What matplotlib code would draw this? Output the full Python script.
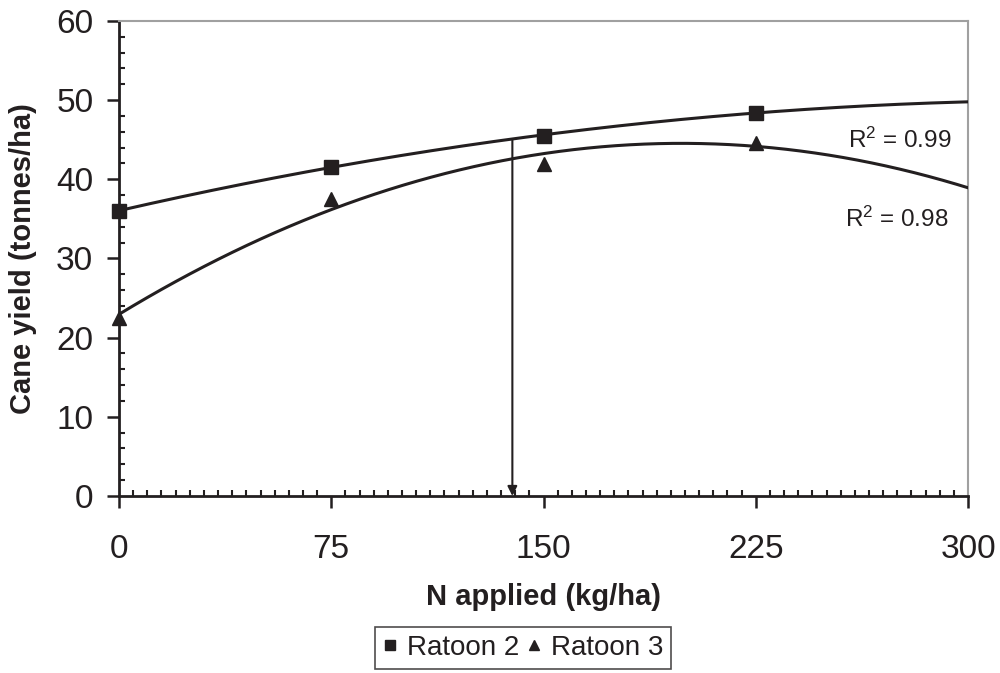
import numpy as np
import matplotlib
matplotlib.use("Agg")
import matplotlib.pyplot as plt
from matplotlib.ticker import MultipleLocator

plt.rcParams['font.family'] = ['Liberation Sans', 'DejaVu Sans']
plt.rcParams['mathtext.fontset'] = 'custom'
plt.rcParams['mathtext.rm'] = 'Liberation Sans'

n_applied = [0, 75, 150, 225]
ratoon2 = [36.0, 41.6, 45.5, 48.4]
ratoon3 = [22.5, 37.5, 41.9, 44.6]
r2_labels = ["0.99", "0.98"]
optimum_n = 139
xticks = [0, 75, 150, 225, 300]
yticks = [0, 10, 20, 30, 40, 50, 60]

dark = '#231f20'

fig = plt.figure(figsize=(10, 6.73), dpi=100)
ax = fig.add_axes([0.119, 0.263, 0.849, 0.706])

xs = np.linspace(0, 300, 300)
p2 = np.polyfit(n_applied, ratoon2, 2)
p3 = np.polyfit(n_applied, ratoon3, 2)
ax.plot(xs, np.polyval(p2, xs), color=dark, lw=2.2, zorder=3)
ax.plot(xs, np.polyval(p3, xs), color=dark, lw=2.2, zorder=3)

ax.plot(n_applied, ratoon2, ls='none', marker='s', ms=9.5, color=dark, label='Ratoon 2', zorder=4, clip_on=False)
ax.plot(n_applied, ratoon3, ls='none', marker='^', ms=10.5, color=dark, label='Ratoon 3', zorder=4, clip_on=False)

ytop = np.polyval(p2, optimum_n)
ax.annotate('', xy=(optimum_n, 0), xytext=(optimum_n, ytop),
            arrowprops=dict(arrowstyle='-|>', color=dark, lw=1.5, mutation_scale=14,
                            shrinkA=0, shrinkB=0), zorder=2)

ax.text(276, 44.9, r'$\mathregular{R^2}$ = ' + r2_labels[0], fontsize=17.5, color=dark,
        ha='center', va='center')
ax.text(275, 34.9, r'$\mathregular{R^2}$ = ' + r2_labels[1], fontsize=17.5, color=dark,
        ha='center', va='center')

ax.set_xlim(0, 300)
ax.set_ylim(0, 60)
ax.set_xticks(xticks)
ax.set_yticks(yticks)
ax.xaxis.set_minor_locator(MultipleLocator(5))
ax.yaxis.set_minor_locator(MultipleLocator(2))
ax.tick_params(axis='both', which='major', direction='out', length=8.5, width=1.8,
               color=dark, labelsize=24, labelcolor=dark)
ax.tick_params(axis='x', which='major', pad=19)
ax.tick_params(axis='y', which='major', pad=10)
ax.tick_params(axis='both', which='minor', direction='in', length=4.5, width=1.5, color=dark)

for s in ['left', 'bottom']:
    ax.spines[s].set_color(dark)
    ax.spines[s].set_linewidth(2)
for s in ['top', 'right']:
    ax.spines[s].set_color('#a0a0a0')
    ax.spines[s].set_linewidth(1.5)

ax.set_xlabel('N applied (kg/ha)', fontsize=21, fontweight='bold', color=dark, labelpad=13)
ax.set_ylabel('Cane yield (tonnes/ha)', fontsize=21, fontweight='bold', color=dark, labelpad=14)

leg = fig.legend(loc='center', bbox_to_anchor=(0.523, 0.037), ncol=2, fontsize=20,
                 frameon=True, fancybox=False, edgecolor=dark, handlelength=0.5,
                 handletextpad=0.35, columnspacing=0.3, borderpad=0.3, borderaxespad=0,
                 markerscale=0.7)
leg.get_frame().set_linewidth(1.2)
for t in leg.get_texts():
    t.set_color(dark)

fig.savefig('out.png', dpi=100)
